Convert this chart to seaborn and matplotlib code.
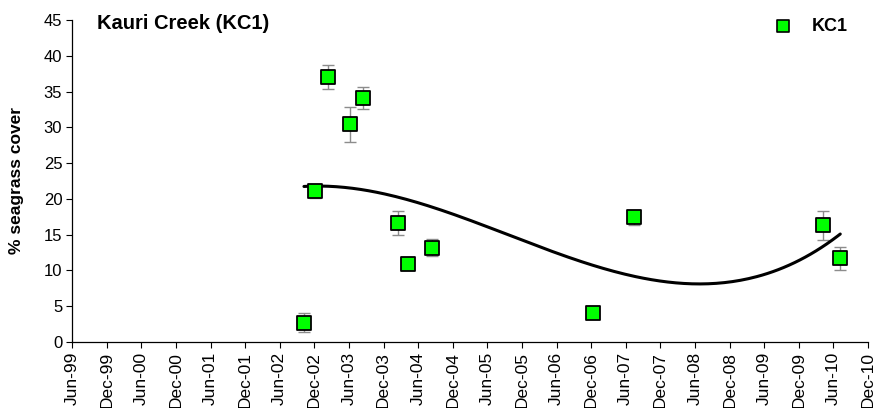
import numpy as np
import pandas as pd
import matplotlib
matplotlib.use("Agg")
import matplotlib.pyplot as plt
import matplotlib.dates as mdates
import seaborn as sns

# Survey dates, mean cover and standard error at site KC1
survey_dates = ["2002-10-07", "2002-12-04", "2003-02-12", "2003-06-07",
                "2003-08-13", "2004-02-13", "2004-04-10", "2004-08-13",
                "2006-12-10", "2007-07-13", "2010-04-07", "2010-07-07"]
cover = [2.7, 21.1, 37.0, 30.4, 34.1, 16.6, 10.9, 13.2, 4.0, 17.4, 16.3, 11.7]
std_err = [1.3, 1.0, 1.7, 2.5, 1.6, 1.7, 0.4, 1.2, 0.3, 1.0, 2.0, 1.6]

df = pd.DataFrame({"date": pd.to_datetime(survey_dates),
                   "cover": cover, "se": std_err})
df["num"] = mdates.date2num(df["date"])

# Third-order polynomial trend through the survey means
coef = np.polyfit(df["num"], df["cover"], 3)
t = np.linspace(df["num"].min(), df["num"].max(), 200)
trend = pd.DataFrame({"date": mdates.num2date(t), "cover": np.polyval(coef, t)})
trend["date"] = pd.to_datetime(trend["date"]).dt.tz_localize(None)

sns.set_theme(style="white")
plt.rcParams["font.family"] = ["Liberation Sans", "DejaVu Sans"]
plt.rcParams["text.color"] = "black"
plt.rcParams["axes.labelcolor"] = "black"
plt.rcParams["xtick.color"] = "black"
plt.rcParams["ytick.color"] = "black"

fig = plt.figure(figsize=(8.76, 4.08), dpi=100)
ax = fig.add_axes([0.0822, 0.1618, 0.9088, 0.7892])

ax.errorbar(df["date"], df["cover"], yerr=df["se"], fmt="none",
            ecolor="#8c8c8c", elinewidth=1.0, capsize=4, capthick=1.0, zorder=2)
sns.lineplot(data=trend, x="date", y="cover", ax=ax, color="black",
             linewidth=2.2, zorder=3)
sns.scatterplot(data=df, x="date", y="cover", ax=ax, marker="s", s=100,
                color="#00ff00", edgecolor="black", linewidth=1.3, zorder=4)

ticks = pd.date_range("1999-06-01", "2010-12-01", freq="6MS")
ax.set_xticks(ticks)
ax.set_xticklabels([d.strftime("%b-%y") for d in ticks], rotation=90, fontsize=12.5)
ax.set_xlim(ticks[0], ticks[-1])
ax.set_ylim(0, 45)
ax.set_yticks(np.arange(0, 46, 5))
ax.tick_params(axis="y", labelsize=12, length=4, width=0.8, direction="out",
               left=True, pad=3)
ax.tick_params(axis="x", length=4, width=0.8, direction="out", bottom=True, pad=3)
for side in ["top", "right"]:
    ax.spines[side].set_visible(False)
for side in ["left", "bottom"]:
    ax.spines[side].set_color("black")
    ax.spines[side].set_linewidth(0.9)

ax.set_xlabel("")
ax.set_ylabel("% seagrass cover", fontsize=12.5, fontweight="bold")
ax.yaxis.set_label_coords(-0.060, 0.5)

ax.text(0.0314, 0.99, "Kauri Creek (KC1)", transform=ax.transAxes,
        fontsize=14.5, fontweight="bold", va="center", ha="left")

ax.scatter([], [], marker="s", s=75, color="#00ff00", edgecolor="black",
           linewidth=1.2, label="KC1")
leg = ax.legend(loc="upper right", bbox_to_anchor=(0.995, 1.058), frameon=False,
                prop={"weight": "bold", "size": 13}, handletextpad=0.6,
                markerscale=1.0)

fig.savefig("out.png", dpi=100)
